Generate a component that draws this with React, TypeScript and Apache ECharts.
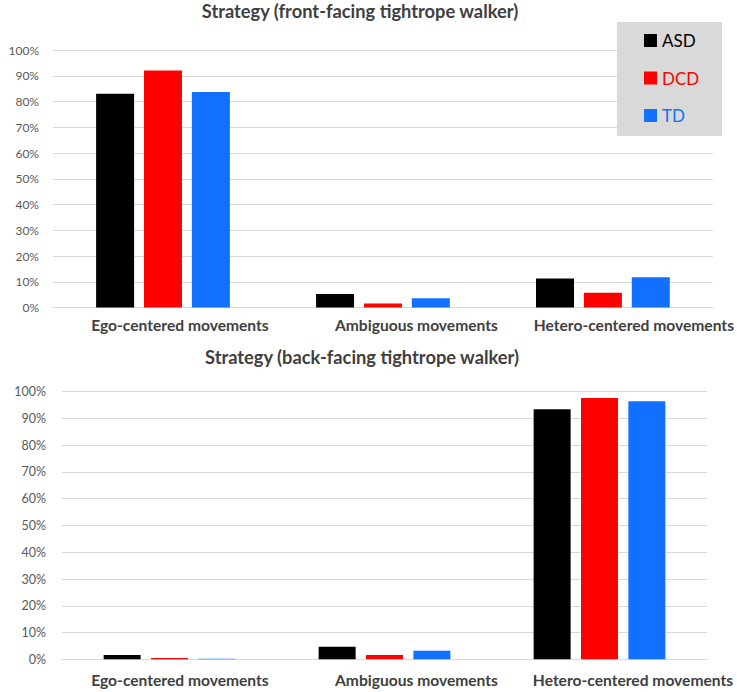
import React, { useEffect, useRef } from "react";
import * as echarts from "echarts";

const categories = ["Ego-centered movements", "Ambiguous movements", "Hetero-centered movements"];
const seriesNames = ["ASD", "DCD", "TD"];
const seriesColors = ["#000000", "#FF0000", "#1170FF"];

const frontASD = [0.83, 0.052, 0.113];
const frontDCD = [0.92, 0.016, 0.057];
const frontTD = [0.837, 0.036, 0.117];

const backASD = [0.016, 0.047, 0.934];
const backDCD = [0.005, 0.016, 0.976];
const backTD = [0.002, 0.032, 0.964];

const titles = ["Strategy (front-facing tightrope walker)", "Strategy (back-facing tightrope walker)"];

const FONT = "Lato";

export default function App() {
  const ref = useRef<HTMLDivElement>(null);
  useEffect(() => {
    if (!ref.current) return;
    const chart = echarts.init(ref.current, undefined, { renderer: "svg" });
    const shiftsTop = [34, 67, 62];
    const shiftsBottom = [21, 64, 67];
    const mkRich = (shifts: number[]) => {
      const r: any = {};
      shifts.forEach((s, i) => {
        r["c" + i] = {
          padding: [0, 0, 0, s],
          fontFamily: FONT,
          fontWeight: "bold",
          fontSize: 15.6,
          color: "#404040",
          lineHeight: 17,
        };
      });
      return r;
    };
    const xAxisBase = (gridIndex: number, shifts: number[], margin: number) => ({
      type: "category",
      gridIndex,
      data: categories,
      axisLine: { lineStyle: { color: "#D9D9D9", width: 1 } },
      axisTick: { show: false },
      axisLabel: {
        margin,
        interval: 0,
        formatter: (v: string) => `{c${categories.indexOf(v)}|${v}}`,
        rich: mkRich(shifts),
      },
    });
    const yAxisBase = (gridIndex: number, fontSize: number, margin: number) => ({
      type: "value",
      gridIndex,
      min: 0,
      max: 1,
      interval: 0.1,
      axisLine: { show: false },
      axisTick: { show: false },
      splitLine: { lineStyle: { color: "#D9D9D9", width: 1 } },
      axisLabel: {
        margin,
        fontFamily: FONT,
        fontSize,
        color: "#595959",
        formatter: (v: number) => `${Math.round(v * 100)}%`,
      },
    });
    const front = [frontASD, frontDCD, frontTD];
    const back = [backASD, backDCD, backTD];
    const series: any[] = [];
    front.forEach((d, i) =>
      series.push({
        type: "bar",
        name: seriesNames[i],
        xAxisIndex: 0,
        yAxisIndex: 0,
        data: d,
        barWidth: 38,
        barGap: "26%",
        itemStyle: { color: seriesColors[i] },
      })
    );
    back.forEach((d, i) =>
      series.push({
        type: "bar",
        name: seriesNames[i],
        xAxisIndex: 1,
        yAxisIndex: 1,
        data: d,
        barWidth: 37,
        barGap: "28%",
        itemStyle: { color: seriesColors[i] },
      })
    );
    const titleStyle = { fontFamily: FONT, fontWeight: "bold", fontSize: 18.3, color: "#404040" };
    chart.setOption({
      animation: false,
      backgroundColor: "#FFFFFF",
      title: [
        { text: titles[0], left: 360, top: 2, padding: 0, textAlign: "center", textStyle: titleStyle },
        { text: titles[1], left: 362, top: 348, padding: 0, textAlign: "center", textStyle: titleStyle },
      ],
      grid: [
        { left: 53, right: 24, top: 50, height: 257.5 },
        { left: 62, right: 30, top: 391.7, height: 267.6 },
      ],
      xAxis: [xAxisBase(0, shiftsTop, 9), xAxisBase(1, shiftsBottom, 12)],
      yAxis: [yAxisBase(0, 12, 14), yAxisBase(1, 12.5, 16)],
      legend: {
        orient: "vertical",
        left: 644,
        top: 32,
        padding: 0,
        itemWidth: 13,
        itemHeight: 13,
        itemGap: 20.5,
        icon: "rect",
        textStyle: { fontFamily: FONT, fontSize: 17, lineHeight: 17 },
        data: seriesNames.map((n, i) => ({ name: n, textStyle: { color: seriesColors[i] } })),
        z: 10,
      },
      graphic: [
        {
          type: "rect",
          z: 5,
          shape: { x: 617, y: 22, width: 105, height: 114 },
          style: { fill: "#D9D9D9" },
        },
      ],
      series,
    });
    return () => chart.dispose();
  }, []);
  return (
    <div
      ref={ref}
      style={{ position: "fixed", left: 0, top: 0, width: 737, height: 692 }}
    />
  );
}
